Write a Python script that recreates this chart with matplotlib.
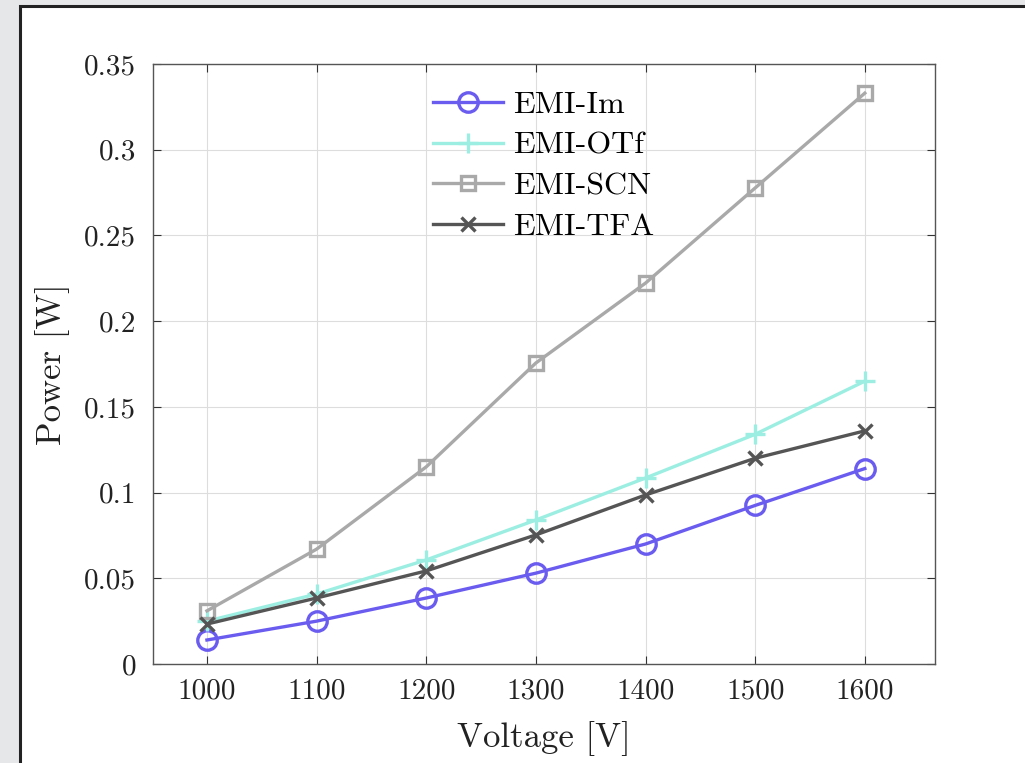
import matplotlib
matplotlib.use("Agg")
import matplotlib.pyplot as plt
from matplotlib.patches import Rectangle
from matplotlib.ticker import FuncFormatter

plt.rcParams['font.family'] = 'cmr10'
plt.rcParams['axes.formatter.use_mathtext'] = True
plt.rcParams['mathtext.fontset'] = 'cm'

voltage = [1000, 1100, 1200, 1300, 1400, 1500, 1600]
emi_im = [0.014, 0.025, 0.0385, 0.053, 0.070, 0.0925, 0.114]
emi_otf = [0.025, 0.0408, 0.0607, 0.084, 0.1085, 0.134, 0.165]
emi_scn = [0.031, 0.067, 0.115, 0.1756, 0.2222, 0.2777, 0.333]
emi_tfa = [0.0233, 0.0385, 0.0543, 0.0753, 0.0986, 0.120, 0.136]
labels = ['EMI-Im', 'EMI-OTf', 'EMI-SCN', 'EMI-TFA']
xticks = [1000, 1100, 1200, 1300, 1400, 1500, 1600]
yticks = [0, 0.05, 0.1, 0.15, 0.2, 0.25, 0.3, 0.35]

W, H = 1025, 763
fig = plt.figure(figsize=(W/100, H/100), dpi=100, facecolor='#e6e7e9')
fig.patches.append(Rectangle((20/W, -0.1), 1.2, 1 - 6/H + 0.1, transform=fig.transFigure,
                             facecolor='white', edgecolor='#222222', linewidth=2.2, zorder=-5))

ax = fig.add_axes([153/W, 1 - 664/H, (935-153)/W, (664-64)/H])
ax.set_zorder(2)
styles = [
    (emi_im, '#6b5cf0', 'o', 14, 'none'),
    (emi_otf, '#9beee1', '+', 15, None),
    (emi_scn, '#a9a9a9', 's', 10, 'none'),
    (emi_tfa, '#555555', 'x', 10, None),
]
for (vals, c, m, ms, mfc), lab in zip(styles, labels):
    kw = dict(color=c, marker=m, markersize=ms, linewidth=2.4, markeredgewidth=2.4, label=lab)
    if mfc is not None:
        kw['markerfacecolor'] = mfc
    ax.plot(voltage, vals, **kw)

ax.set_xlim(950.8, 1664)
ax.set_ylim(0, 0.35)
ax.set_xticks(xticks)
ax.set_yticks(yticks)
ax.xaxis.set_major_formatter(FuncFormatter(lambda v, p: '%d' % round(v)))
def yfmt(v, p):
    return ('%.2f' % v).rstrip('0').rstrip('.')
ax.yaxis.set_major_formatter(FuncFormatter(yfmt))
ax.tick_params(direction='in', labelsize=21, length=6, width=0.8, colors='#333333',
               top=True, right=True, pad=10)
ax.tick_params(axis='y', pad=12)
for lbl in ax.get_xticklabels() + ax.get_yticklabels():
    lbl.set_color('#222222')
ax.grid(True, color='#dddddd', linewidth=0.8)
for s in ax.spines.values():
    s.set_color('#555555')
    s.set_linewidth(1.0)
ax.set_xlabel('Voltage [V]', fontsize=25, color='#222222', labelpad=12)
ax.set_ylabel('Power [W]', fontsize=25, color='#222222', labelpad=10)

leg = ax.legend(loc='upper left', bbox_to_anchor=((433-153)/782, (664-91)/600), frameon=False,
                fontsize=23, handlelength=2.2, labelspacing=0.38, handletextpad=0.3,
                borderaxespad=0, borderpad=0)

fig.savefig('out.png', dpi=100, facecolor=fig.get_facecolor())
